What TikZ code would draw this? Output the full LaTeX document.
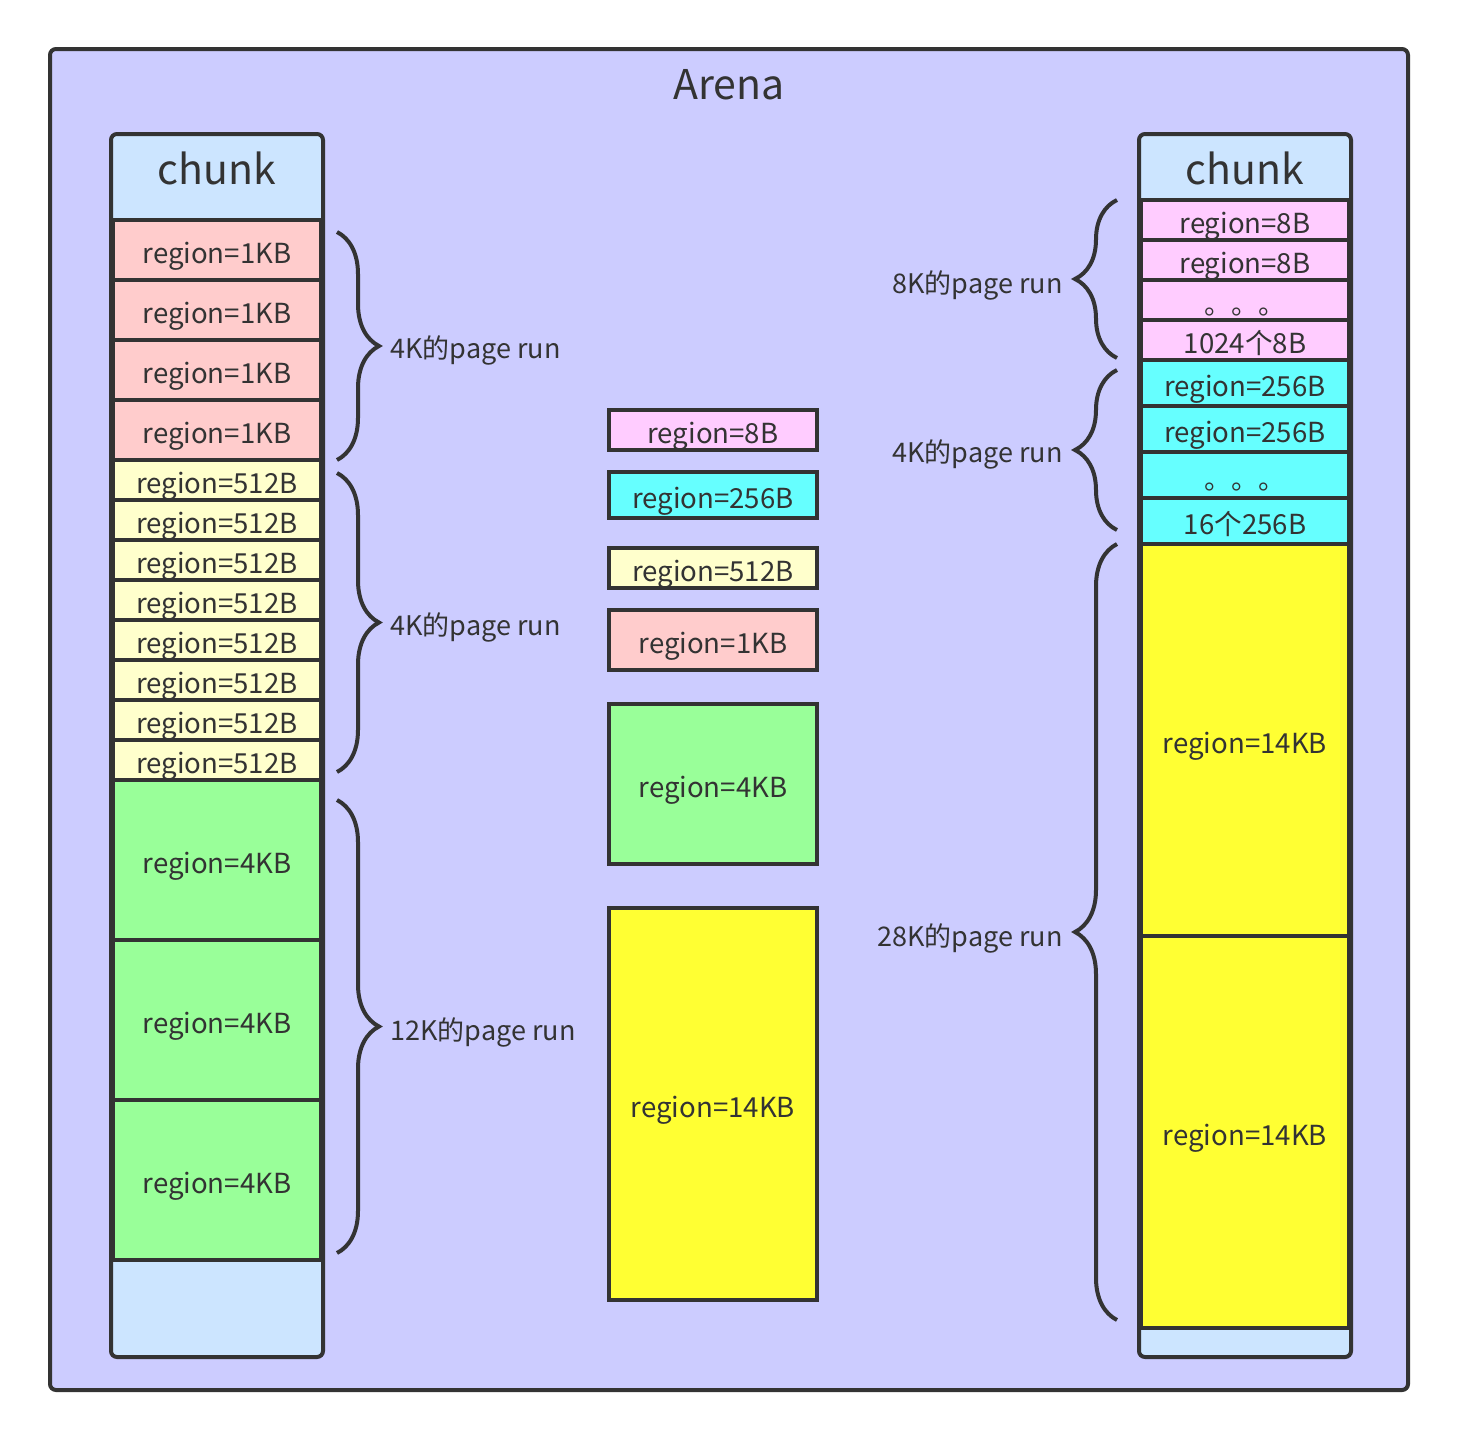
\documentclass[tikz,border=0pt]{standalone}
\usepackage{fontspec}
\setmainfont{Noto Sans CJK SC}
\usetikzlibrary{decorations.pathreplacing}
\definecolor{ink}{HTML}{333333}
\definecolor{arenabg}{HTML}{CCCCFF}
\definecolor{chunkbg}{HTML}{CCE5FF}
\definecolor{pinkbg}{HTML}{FFCCFF}
\definecolor{cyanbg}{HTML}{66FFFF}
\definecolor{creambg}{HTML}{FFFFCC}
\definecolor{salmonbg}{HTML}{FFCCCC}
\definecolor{greenbg}{HTML}{99FF99}
\definecolor{yellowbg}{HTML}{FFFF33}
\tikzset{
  region/.style={draw=ink, line width=2pt, minimum width=104pt, inner sep=0pt,
    text=ink, text height=13pt, text depth=0pt, font=\fontsize{13.8}{16}\selectfont},
  chunkbox/.style={draw=ink, line width=2pt, fill=chunkbg, rounded corners=3pt,
    minimum width=106pt, minimum height=611.5pt, inner sep=0pt},
  bigtitle/.style={text=ink, font=\fontsize{20.5}{24}\selectfont, inner sep=0pt},
  pagebrace/.style={draw=ink, line width=2pt, decorate,
    decoration={brace, amplitude=21pt}},
  runlabel/.style={text=ink, text height=10pt, text depth=0pt,
    font=\fontsize{13.5}{16}\selectfont, inner sep=0pt},
}
\begin{document}
\begin{tikzpicture}[x=0.5pt, y=-0.5pt]
        \useasboundingbox[fill=white] (0,0) rectangle (1458,1440);
        % the arena
        \node[draw=ink, line width=2pt, fill=arenabg, rounded corners=3pt,
          minimum width=679pt, minimum height=670.5pt, inner sep=0pt] (arena) at (729,719.5) {};
        \node[bigtitle] (arenatitle) at (729,85) {Arena};

        % left chunk
        \node[chunkbox] (lchunk) at (217,745.5) {};
        \node[bigtitle] (ltitle) at (217,168) {chunk};
        \foreach \y in {250,310,370,430}
          \node[region, fill=salmonbg, minimum height=30pt] (la\y) at (217,\y) {region=1KB};
        \foreach \y in {480,520,560,600,640,680,720,760}
          \node[region, fill=creambg, minimum height=20pt] (lb\y) at (217,\y) {region=512B};
        \foreach \y in {860,1020,1180}
          \node[region, fill=greenbg, minimum height=80pt] (lc\y) at (217,\y) {region=4KB};

        \coordinate (lb1s) at (337,232);  \coordinate (lb1e) at (337,460);
        \coordinate (lb2s) at (337,473);  \coordinate (lb2e) at (337,772);
        \coordinate (lb3s) at (337,800);  \coordinate (lb3e) at (337,1253);
        \draw[pagebrace] (lb1s) -- (lb1e);
        \draw[pagebrace] (lb2s) -- (lb2e);
        \draw[pagebrace] (lb3s) -- (lb3e);
        \node[runlabel, anchor=west] (lrun1) at (390,348) {4K的page run};
        \node[runlabel, anchor=west] (lrun2) at (390,625) {4K的page run};
        \node[runlabel, anchor=west] (lrun3) at (390,1030) {12K的page run};

        % the region sizes
        \node[region, fill=pinkbg, minimum height=20pt] (m8) at (713,430) {region=8B};
        \node[region, fill=cyanbg, minimum height=23pt] (m256) at (713,495) {region=256B};
        \node[region, fill=creambg, minimum height=20pt] (m512) at (713,568) {region=512B};
        \node[region, fill=salmonbg, minimum height=30pt] (m1k) at (713,640) {region=1KB};
        \node[region, fill=greenbg, minimum height=80pt] (m4k) at (713,784) {region=4KB};
        \node[region, fill=yellowbg, minimum height=196pt] (m14k) at (713,1104) {region=14KB};

        % right chunk
        \node[chunkbox] (rchunk) at (1245,745.5) {};
        \node[bigtitle] (rtitle) at (1245,168) {chunk};
        \node[region, fill=pinkbg, minimum height=20pt] (ra1) at (1245,220) {region=8B};
        \node[region, fill=pinkbg, minimum height=20pt] (ra2) at (1245,260) {region=8B};
        \node[region, fill=pinkbg, minimum height=20pt] (ra3) at (1245,300) {};
        \node[runlabel] (ra3dots) at (1245,304) {。。。};
        \node[region, fill=pinkbg, minimum height=20pt] (ra4) at (1245,340) {1024个8B};
        \node[region, fill=cyanbg, minimum height=23pt] (rb1) at (1245,383) {region=256B};
        \node[region, fill=cyanbg, minimum height=23pt] (rb2) at (1245,429) {region=256B};
        \node[region, fill=cyanbg, minimum height=23pt] (rb3) at (1245,475) {};
        \node[runlabel] (rb3dots) at (1245,479) {。。。};
        \node[region, fill=cyanbg, minimum height=23pt] (rb4) at (1245,521) {16个256B};
        \node[region, fill=yellowbg, minimum height=196pt] (rc1) at (1245,740) {region=14KB};
        \node[region, fill=yellowbg, minimum height=196pt] (rc2) at (1245,1132) {region=14KB};

        \coordinate (rb1s) at (1117,358);  \coordinate (rb1e) at (1117,200);
        \coordinate (rb2s) at (1117,530);  \coordinate (rb2e) at (1117,370);
        \coordinate (rb3s) at (1117,1320); \coordinate (rb3e) at (1117,544);
        \draw[pagebrace] (rb1s) -- (rb1e);
        \draw[pagebrace] (rb2s) -- (rb2e);
        \draw[pagebrace] (rb3s) -- (rb3e);
        \node[runlabel, anchor=east] (rrun1) at (1063,283) {8K的page run};
        \node[runlabel, anchor=east] (rrun2) at (1063,452) {4K的page run};
        \node[runlabel, anchor=east] (rrun3) at (1063,936) {28K的page run};
    \end{tikzpicture}
\end{document}
